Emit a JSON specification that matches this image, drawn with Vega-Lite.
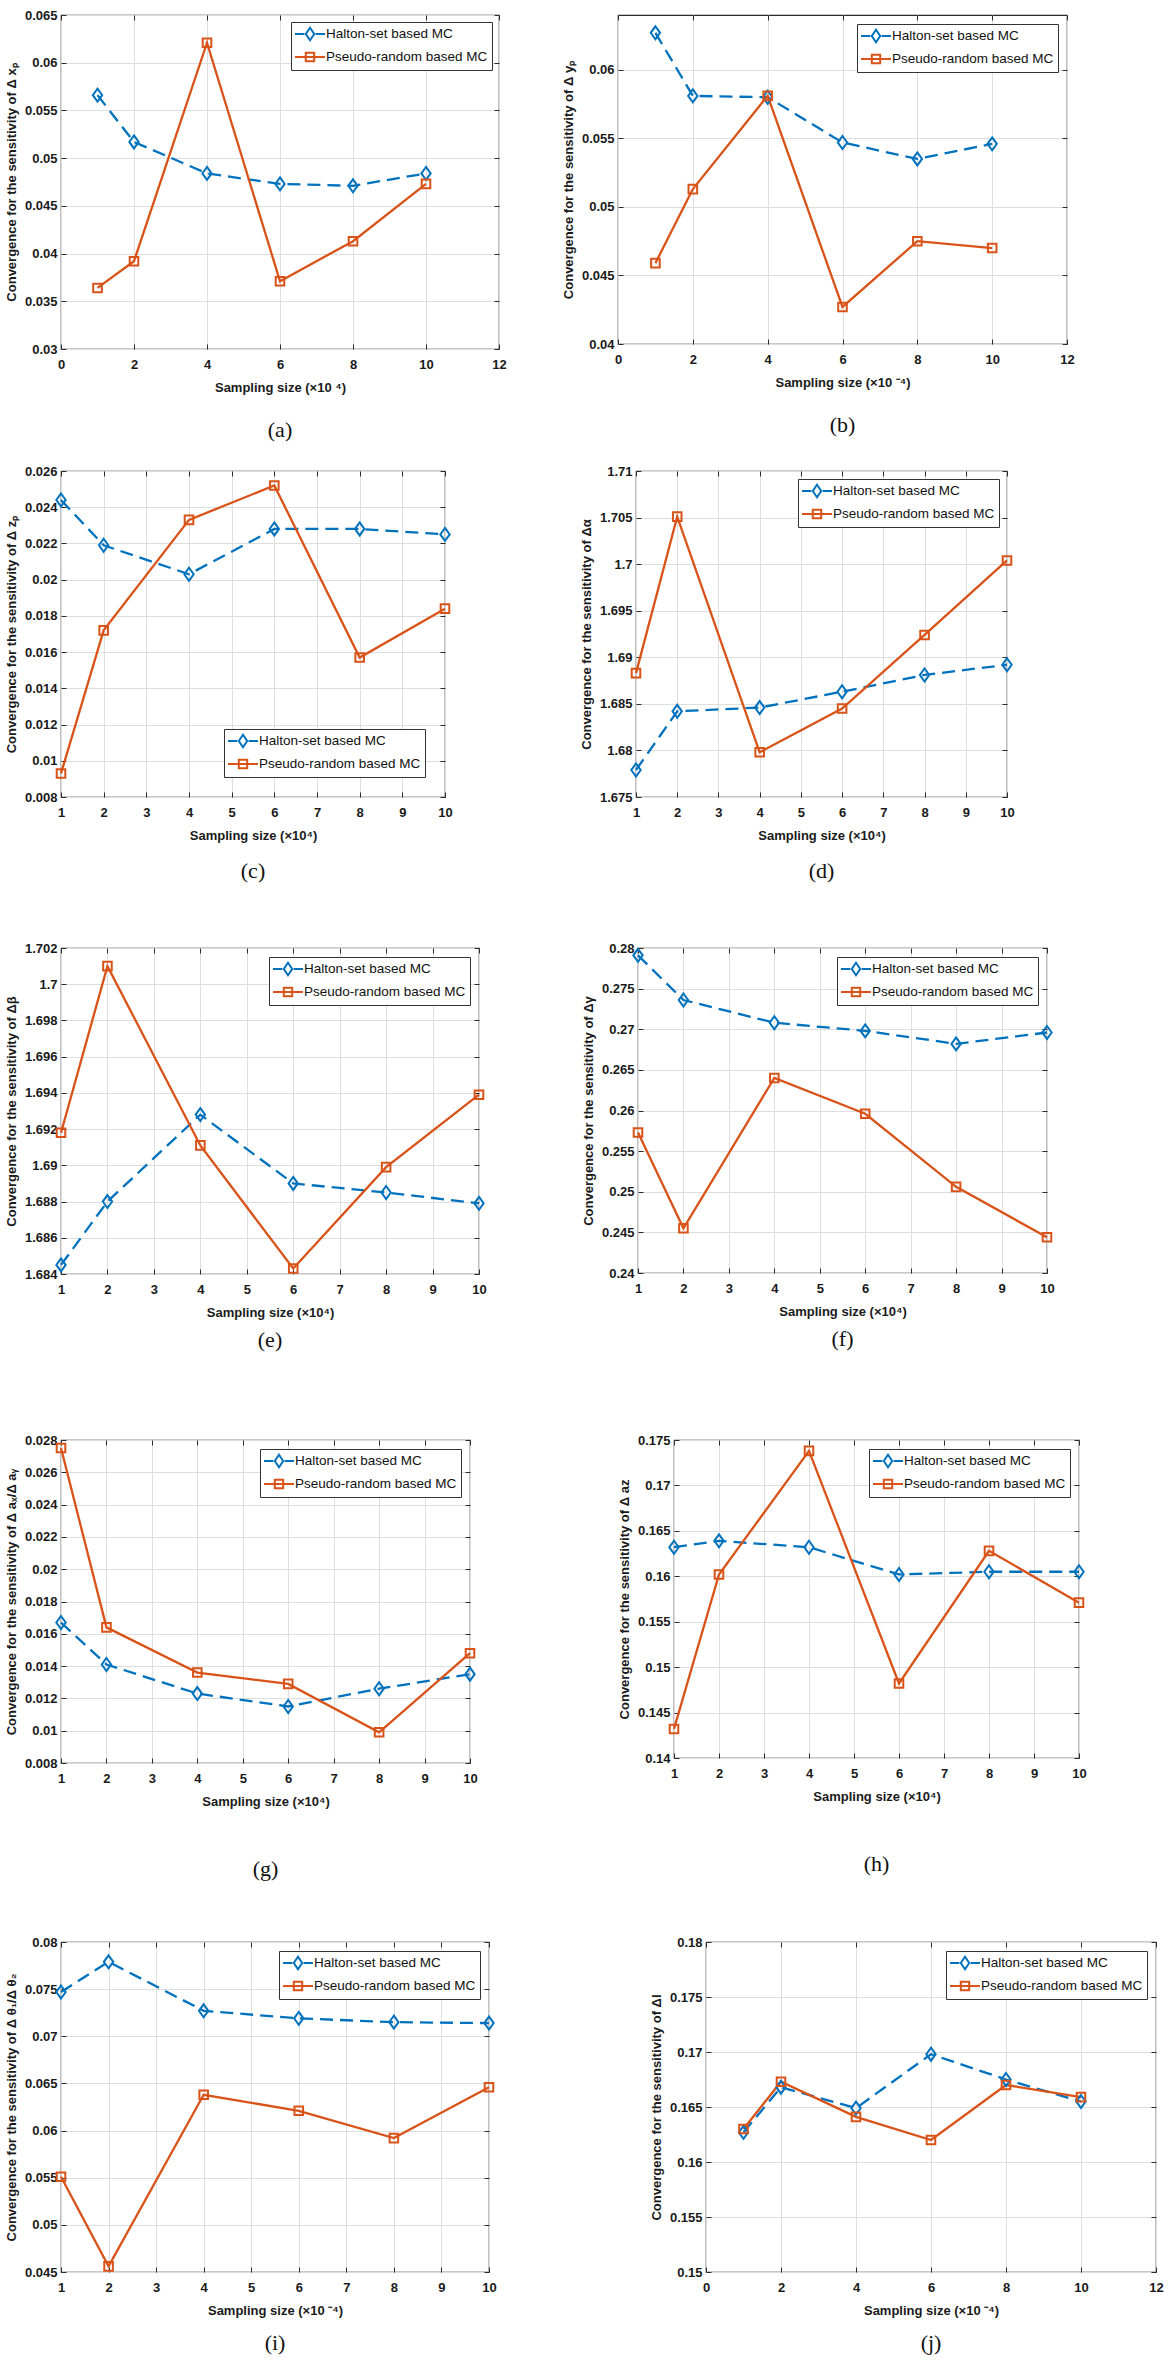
{
  "$schema": "https://vega.github.io/schema/vega-lite/v6.json",
  "background": "white",
  "padding": {"left": 4, "top": 8, "right": 5, "bottom": 5},
  "config": {
    "view": {"stroke": "#2b2b2b", "strokeWidth": 1.2},
    "axis": {"grid": true, "gridColor": "#dedede", "gridWidth": 1, "domain": false, "tickColor": "#2b2b2b", "tickSize": -5, "tickWidth": 1, "labelFont": "Liberation Sans Narrow, Liberation Sans", "labelFontSize": 13, "labelFontWeight": "bold", "labelColor": "#1a1a1a", "labelFlush": false, "labelOverlap": false, "titleFont": "Liberation Sans", "titleFontSize": 13, "titleFontWeight": "bold", "titleColor": "#1a1a1a"},
    "axisX": {"labelPadding": 14, "titlePadding": 10},
    "axisY": {"labelPadding": 9, "titlePadding": 6},
    "legend": {"fillColor": "white", "strokeColor": "#333333", "padding": 4, "labelFont": "Liberation Sans", "labelFontSize": 13.5, "labelColor": "#111111", "labelLimit": 400, "symbolSize": 196, "rowPadding": 3, "labelOffset": 15, "symbolStrokeWidth": 2, "symbolOpacity": 1},
    "title": {"font": "Liberation Serif", "fontSize": 22, "fontWeight": "normal", "color": "#111111"}
  },
  "data": {"values": [
    {"panel": "a", "method": "Halton-set based MC", "x": 1, "y": 0.0566},
    {"panel": "a", "method": "Halton-set based MC", "x": 2, "y": 0.0517},
    {"panel": "a", "method": "Halton-set based MC", "x": 4, "y": 0.0484},
    {"panel": "a", "method": "Halton-set based MC", "x": 6, "y": 0.0473},
    {"panel": "a", "method": "Halton-set based MC", "x": 8, "y": 0.0471},
    {"panel": "a", "method": "Halton-set based MC", "x": 10, "y": 0.0484},
    {"panel": "a", "method": "Pseudo-random based MC", "x": 1, "y": 0.0364},
    {"panel": "a", "method": "Pseudo-random based MC", "x": 2, "y": 0.0392},
    {"panel": "a", "method": "Pseudo-random based MC", "x": 4, "y": 0.0621},
    {"panel": "a", "method": "Pseudo-random based MC", "x": 6, "y": 0.0371},
    {"panel": "a", "method": "Pseudo-random based MC", "x": 8, "y": 0.0413},
    {"panel": "a", "method": "Pseudo-random based MC", "x": 10, "y": 0.0473},
    {"panel": "b", "method": "Halton-set based MC", "x": 1, "y": 0.0627},
    {"panel": "b", "method": "Halton-set based MC", "x": 2, "y": 0.0581},
    {"panel": "b", "method": "Halton-set based MC", "x": 4, "y": 0.0580},
    {"panel": "b", "method": "Halton-set based MC", "x": 6, "y": 0.0547},
    {"panel": "b", "method": "Halton-set based MC", "x": 8, "y": 0.0535},
    {"panel": "b", "method": "Halton-set based MC", "x": 10, "y": 0.0546},
    {"panel": "b", "method": "Pseudo-random based MC", "x": 1, "y": 0.0459},
    {"panel": "b", "method": "Pseudo-random based MC", "x": 2, "y": 0.0513},
    {"panel": "b", "method": "Pseudo-random based MC", "x": 4, "y": 0.0581},
    {"panel": "b", "method": "Pseudo-random based MC", "x": 6, "y": 0.0427},
    {"panel": "b", "method": "Pseudo-random based MC", "x": 8, "y": 0.0475},
    {"panel": "b", "method": "Pseudo-random based MC", "x": 10, "y": 0.0470},
    {"panel": "c", "method": "Halton-set based MC", "x": 1, "y": 0.0244},
    {"panel": "c", "method": "Halton-set based MC", "x": 2, "y": 0.0219},
    {"panel": "c", "method": "Halton-set based MC", "x": 4, "y": 0.0203},
    {"panel": "c", "method": "Halton-set based MC", "x": 6, "y": 0.0228},
    {"panel": "c", "method": "Halton-set based MC", "x": 8, "y": 0.0228},
    {"panel": "c", "method": "Halton-set based MC", "x": 10, "y": 0.0225},
    {"panel": "c", "method": "Pseudo-random based MC", "x": 1, "y": 0.0093},
    {"panel": "c", "method": "Pseudo-random based MC", "x": 2, "y": 0.0172},
    {"panel": "c", "method": "Pseudo-random based MC", "x": 4, "y": 0.0233},
    {"panel": "c", "method": "Pseudo-random based MC", "x": 6, "y": 0.0252},
    {"panel": "c", "method": "Pseudo-random based MC", "x": 8, "y": 0.0157},
    {"panel": "c", "method": "Pseudo-random based MC", "x": 10, "y": 0.0184},
    {"panel": "d", "method": "Halton-set based MC", "x": 1, "y": 1.6779},
    {"panel": "d", "method": "Halton-set based MC", "x": 2, "y": 1.6842},
    {"panel": "d", "method": "Halton-set based MC", "x": 4, "y": 1.6846},
    {"panel": "d", "method": "Halton-set based MC", "x": 6, "y": 1.6863},
    {"panel": "d", "method": "Halton-set based MC", "x": 8, "y": 1.6881},
    {"panel": "d", "method": "Halton-set based MC", "x": 10, "y": 1.6892},
    {"panel": "d", "method": "Pseudo-random based MC", "x": 1, "y": 1.6883},
    {"panel": "d", "method": "Pseudo-random based MC", "x": 2, "y": 1.7051},
    {"panel": "d", "method": "Pseudo-random based MC", "x": 4, "y": 1.6798},
    {"panel": "d", "method": "Pseudo-random based MC", "x": 6, "y": 1.6845},
    {"panel": "d", "method": "Pseudo-random based MC", "x": 8, "y": 1.6924},
    {"panel": "d", "method": "Pseudo-random based MC", "x": 10, "y": 1.7004},
    {"panel": "e", "method": "Halton-set based MC", "x": 1, "y": 1.6845},
    {"panel": "e", "method": "Halton-set based MC", "x": 2, "y": 1.6880},
    {"panel": "e", "method": "Halton-set based MC", "x": 4, "y": 1.6928},
    {"panel": "e", "method": "Halton-set based MC", "x": 6, "y": 1.6890},
    {"panel": "e", "method": "Halton-set based MC", "x": 8, "y": 1.6885},
    {"panel": "e", "method": "Halton-set based MC", "x": 10, "y": 1.6879},
    {"panel": "e", "method": "Pseudo-random based MC", "x": 1, "y": 1.6918},
    {"panel": "e", "method": "Pseudo-random based MC", "x": 2, "y": 1.7010},
    {"panel": "e", "method": "Pseudo-random based MC", "x": 4, "y": 1.6911},
    {"panel": "e", "method": "Pseudo-random based MC", "x": 6, "y": 1.6843},
    {"panel": "e", "method": "Pseudo-random based MC", "x": 8, "y": 1.6899},
    {"panel": "e", "method": "Pseudo-random based MC", "x": 10, "y": 1.6939},
    {"panel": "f", "method": "Halton-set based MC", "x": 1, "y": 0.2791},
    {"panel": "f", "method": "Halton-set based MC", "x": 2, "y": 0.2736},
    {"panel": "f", "method": "Halton-set based MC", "x": 4, "y": 0.2708},
    {"panel": "f", "method": "Halton-set based MC", "x": 6, "y": 0.2698},
    {"panel": "f", "method": "Halton-set based MC", "x": 8, "y": 0.2682},
    {"panel": "f", "method": "Halton-set based MC", "x": 10, "y": 0.2696},
    {"panel": "f", "method": "Pseudo-random based MC", "x": 1, "y": 0.2573},
    {"panel": "f", "method": "Pseudo-random based MC", "x": 2, "y": 0.2455},
    {"panel": "f", "method": "Pseudo-random based MC", "x": 4, "y": 0.2640},
    {"panel": "f", "method": "Pseudo-random based MC", "x": 6, "y": 0.2596},
    {"panel": "f", "method": "Pseudo-random based MC", "x": 8, "y": 0.2506},
    {"panel": "f", "method": "Pseudo-random based MC", "x": 10, "y": 0.2444},
    {"panel": "g", "method": "Halton-set based MC", "x": 1, "y": 0.0167},
    {"panel": "g", "method": "Halton-set based MC", "x": 2, "y": 0.0141},
    {"panel": "g", "method": "Halton-set based MC", "x": 4, "y": 0.0123},
    {"panel": "g", "method": "Halton-set based MC", "x": 6, "y": 0.0115},
    {"panel": "g", "method": "Halton-set based MC", "x": 8, "y": 0.0126},
    {"panel": "g", "method": "Halton-set based MC", "x": 10, "y": 0.0135},
    {"panel": "g", "method": "Pseudo-random based MC", "x": 1, "y": 0.0275},
    {"panel": "g", "method": "Pseudo-random based MC", "x": 2, "y": 0.0164},
    {"panel": "g", "method": "Pseudo-random based MC", "x": 4, "y": 0.0136},
    {"panel": "g", "method": "Pseudo-random based MC", "x": 6, "y": 0.0129},
    {"panel": "g", "method": "Pseudo-random based MC", "x": 8, "y": 0.0099},
    {"panel": "g", "method": "Pseudo-random based MC", "x": 10, "y": 0.0148},
    {"panel": "h", "method": "Halton-set based MC", "x": 1, "y": 0.1632},
    {"panel": "h", "method": "Halton-set based MC", "x": 2, "y": 0.1639},
    {"panel": "h", "method": "Halton-set based MC", "x": 4, "y": 0.1632},
    {"panel": "h", "method": "Halton-set based MC", "x": 6, "y": 0.1602},
    {"panel": "h", "method": "Halton-set based MC", "x": 8, "y": 0.1605},
    {"panel": "h", "method": "Halton-set based MC", "x": 10, "y": 0.1605},
    {"panel": "h", "method": "Pseudo-random based MC", "x": 1, "y": 0.1432},
    {"panel": "h", "method": "Pseudo-random based MC", "x": 2, "y": 0.1602},
    {"panel": "h", "method": "Pseudo-random based MC", "x": 4, "y": 0.1738},
    {"panel": "h", "method": "Pseudo-random based MC", "x": 6, "y": 0.1482},
    {"panel": "h", "method": "Pseudo-random based MC", "x": 8, "y": 0.1628},
    {"panel": "h", "method": "Pseudo-random based MC", "x": 10, "y": 0.1571},
    {"panel": "i", "method": "Halton-set based MC", "x": 1, "y": 0.0747},
    {"panel": "i", "method": "Halton-set based MC", "x": 2, "y": 0.0779},
    {"panel": "i", "method": "Halton-set based MC", "x": 4, "y": 0.0727},
    {"panel": "i", "method": "Halton-set based MC", "x": 6, "y": 0.0719},
    {"panel": "i", "method": "Halton-set based MC", "x": 8, "y": 0.0715},
    {"panel": "i", "method": "Halton-set based MC", "x": 10, "y": 0.0714},
    {"panel": "i", "method": "Pseudo-random based MC", "x": 1, "y": 0.0551},
    {"panel": "i", "method": "Pseudo-random based MC", "x": 2, "y": 0.0456},
    {"panel": "i", "method": "Pseudo-random based MC", "x": 4, "y": 0.0638},
    {"panel": "i", "method": "Pseudo-random based MC", "x": 6, "y": 0.0621},
    {"panel": "i", "method": "Pseudo-random based MC", "x": 8, "y": 0.0592},
    {"panel": "i", "method": "Pseudo-random based MC", "x": 10, "y": 0.0646},
    {"panel": "j", "method": "Halton-set based MC", "x": 1, "y": 0.1627},
    {"panel": "j", "method": "Halton-set based MC", "x": 2, "y": 0.1668},
    {"panel": "j", "method": "Halton-set based MC", "x": 4, "y": 0.1649},
    {"panel": "j", "method": "Halton-set based MC", "x": 6, "y": 0.1698},
    {"panel": "j", "method": "Halton-set based MC", "x": 8, "y": 0.1675},
    {"panel": "j", "method": "Halton-set based MC", "x": 10, "y": 0.1655},
    {"panel": "j", "method": "Pseudo-random based MC", "x": 1, "y": 0.1630},
    {"panel": "j", "method": "Pseudo-random based MC", "x": 2, "y": 0.1673},
    {"panel": "j", "method": "Pseudo-random based MC", "x": 4, "y": 0.1641},
    {"panel": "j", "method": "Pseudo-random based MC", "x": 6, "y": 0.1620},
    {"panel": "j", "method": "Pseudo-random based MC", "x": 8, "y": 0.1670},
    {"panel": "j", "method": "Pseudo-random based MC", "x": 10, "y": 0.1659}
  ]},
  "spacing": 22,
  "resolve": {"scale": {"color": "independent", "shape": "independent"}, "legend": {"color": "independent"}},
  "vconcat": [
    {
      "resolve": {"scale": {"color": "independent", "shape": "independent"}, "legend": {"color": "independent"}},
      "hconcat": [
        {
          "width": 438, "height": 334,
          "title": {"text": "(a)", "orient": "bottom", "offset": 26},
          "transform": [{"filter": "datum.panel === 'a'"}],
          "layer": [
            {"transform": [{"filter": "datum.method === 'Halton-set based MC'"}],
             "mark": {"type": "line", "color": "#0072BD", "strokeDash": [13, 7], "strokeWidth": 2.3},
             "encoding": {
               "x": {"field": "x", "type": "quantitative", "scale": {"domain": [0, 12], "nice": false, "zero": false}, "axis": {"values": [0, 2, 4, 6, 8, 10, 12], "title": "Sampling size (×10 ⁴)"}},
               "y": {"field": "y", "type": "quantitative", "scale": {"domain": [0.03, 0.065], "nice": false, "zero": false}, "axis": {"values": [0.03, 0.035, 0.04, 0.045, 0.05, 0.055, 0.06, 0.065], "format": "~g", "title": "Convergence for the sensitivity of  Δ xₚ"}}}},
            {"transform": [{"filter": "datum.method === 'Pseudo-random based MC'"}],
             "mark": {"type": "line", "color": "#D95319", "strokeWidth": 2.3},
             "encoding": {"x": {"field": "x", "type": "quantitative", "axis": null}, "y": {"field": "y", "type": "quantitative", "axis": null}}},
            {"transform": [{"filter": "datum.method === 'Halton-set based MC'"}],
             "mark": {"type": "point", "shape": "M0,-1L0.72,0L0,1L-0.72,0Z", "filled": false, "color": "#0072BD", "strokeWidth": 2, "size": 169, "opacity": 1},
             "encoding": {
               "x": {"field": "x", "type": "quantitative", "axis": {"orient": "top", "values": [0, 2, 4, 6, 8, 10, 12], "labels": false, "title": null, "grid": false}},
               "y": {"field": "y", "type": "quantitative", "axis": {"orient": "right", "values": [0.03, 0.035, 0.04, 0.045, 0.05, 0.055, 0.06, 0.065], "labels": false, "title": null, "grid": false}}}},
            {"transform": [{"filter": "datum.method === 'Pseudo-random based MC'"}],
             "mark": {"type": "point", "shape": "M-0.66,-0.66L0.66,-0.66L0.66,0.66L-0.66,0.66Z", "filled": false, "color": "#D95319", "strokeWidth": 2, "size": 169, "opacity": 1},
             "encoding": {"x": {"field": "x", "type": "quantitative", "axis": null}, "y": {"field": "y", "type": "quantitative", "axis": null}}},
            {"mark": {"type": "point", "filled": false, "strokeWidth": 2, "opacity": 0},
             "encoding": {
               "x": {"field": "x", "type": "quantitative", "axis": null}, "y": {"field": "y", "type": "quantitative", "axis": null},
               "color": {"field": "method", "type": "nominal", "scale": {"domain": ["Halton-set based MC", "Pseudo-random based MC"], "range": ["#0072BD", "#D95319"]}, "legend": {"title": null, "orient": "top-right", "offset": 7, "symbolOpacity": 1}},
               "shape": {"field": "method", "type": "nominal", "scale": {"domain": ["Halton-set based MC", "Pseudo-random based MC"], "range": ["M-1.14,0L0.2,0M1,-0.9L1.6,0L1,0.9L0.4,0ZM1.8,0L3.14,0", "M-1.14,0L3.14,0M0.4,-0.6L1.6,-0.6L1.6,0.6L0.4,0.6Z"]}, "legend": null}}}
          ],
          "resolve": {"axis": {"x": "independent", "y": "independent"}}
        },
        {
          "width": 449, "height": 329,
          "title": {"text": "(b)", "orient": "bottom", "offset": 26},
          "transform": [{"filter": "datum.panel === 'b'"}],
          "layer": [
            {"transform": [{"filter": "datum.method === 'Halton-set based MC'"}],
             "mark": {"type": "line", "color": "#0072BD", "strokeDash": [13, 7], "strokeWidth": 2.3},
             "encoding": {
               "x": {"field": "x", "type": "quantitative", "scale": {"domain": [0, 12], "nice": false, "zero": false}, "axis": {"values": [0, 2, 4, 6, 8, 10, 12], "title": "Sampling size (×10 ⁻⁴)"}},
               "y": {"field": "y", "type": "quantitative", "scale": {"domain": [0.04, 0.064], "nice": false, "zero": false}, "axis": {"values": [0.04, 0.045, 0.05, 0.055, 0.06], "format": "~g", "title": "Convergence for the sensitivity of  Δ yₚ"}}}},
            {"transform": [{"filter": "datum.method === 'Pseudo-random based MC'"}],
             "mark": {"type": "line", "color": "#D95319", "strokeWidth": 2.3},
             "encoding": {"x": {"field": "x", "type": "quantitative", "axis": null}, "y": {"field": "y", "type": "quantitative", "axis": null}}},
            {"transform": [{"filter": "datum.method === 'Halton-set based MC'"}],
             "mark": {"type": "point", "shape": "M0,-1L0.72,0L0,1L-0.72,0Z", "filled": false, "color": "#0072BD", "strokeWidth": 2, "size": 169, "opacity": 1},
             "encoding": {
               "x": {"field": "x", "type": "quantitative", "axis": {"orient": "top", "values": [0, 2, 4, 6, 8, 10, 12], "labels": false, "title": null, "grid": false}},
               "y": {"field": "y", "type": "quantitative", "axis": {"orient": "right", "values": [0.04, 0.045, 0.05, 0.055, 0.06], "labels": false, "title": null, "grid": false}}}},
            {"transform": [{"filter": "datum.method === 'Pseudo-random based MC'"}],
             "mark": {"type": "point", "shape": "M-0.66,-0.66L0.66,-0.66L0.66,0.66L-0.66,0.66Z", "filled": false, "color": "#D95319", "strokeWidth": 2, "size": 169, "opacity": 1},
             "encoding": {"x": {"field": "x", "type": "quantitative", "axis": null}, "y": {"field": "y", "type": "quantitative", "axis": null}}},
            {"mark": {"type": "point", "filled": false, "strokeWidth": 2, "opacity": 0},
             "encoding": {
               "x": {"field": "x", "type": "quantitative", "axis": null}, "y": {"field": "y", "type": "quantitative", "axis": null},
               "color": {"field": "method", "type": "nominal", "scale": {"domain": ["Halton-set based MC", "Pseudo-random based MC"], "range": ["#0072BD", "#D95319"]}, "legend": {"title": null, "orient": "top-right", "offset": 9, "symbolOpacity": 1}},
               "shape": {"field": "method", "type": "nominal", "scale": {"domain": ["Halton-set based MC", "Pseudo-random based MC"], "range": ["M-1.14,0L0.2,0M1,-0.9L1.6,0L1,0.9L0.4,0ZM1.8,0L3.14,0", "M-1.14,0L3.14,0M0.4,-0.6L1.6,-0.6L1.6,0.6L0.4,0.6Z"]}, "legend": null}}}
          ],
          "resolve": {"axis": {"x": "independent", "y": "independent"}}
        }
      ],
      "bounds": "flush", "spacing": 119
    },
    {
      "spacing": 58,
      "resolve": {"scale": {"color": "independent", "shape": "independent"}, "legend": {"color": "independent"}},
      "vconcat": [
        {
          "resolve": {"scale": {"color": "independent", "shape": "independent"}, "legend": {"color": "independent"}},
          "hconcat": [
            {
              "width": 384, "height": 326,
              "title": {"text": "(c)", "orient": "bottom", "offset": 19},
              "transform": [{"filter": "datum.panel === 'c'"}],
              "layer": [
                {"transform": [{"filter": "datum.method === 'Halton-set based MC'"}],
                 "mark": {"type": "line", "color": "#0072BD", "strokeDash": [13, 7], "strokeWidth": 2.3},
                 "encoding": {
                   "x": {"field": "x", "type": "quantitative", "scale": {"domain": [1, 10], "nice": false, "zero": false}, "axis": {"values": [1, 2, 3, 4, 5, 6, 7, 8, 9, 10], "title": "Sampling size (×10⁴)"}},
                   "y": {"field": "y", "type": "quantitative", "scale": {"domain": [0.008, 0.026], "nice": false, "zero": false}, "axis": {"values": [0.008, 0.01, 0.012, 0.014, 0.016, 0.018, 0.02, 0.022, 0.024, 0.026], "format": "~g", "title": "Convergence for the sensitivity of  Δ zₚ"}}}},
                {"transform": [{"filter": "datum.method === 'Pseudo-random based MC'"}],
                 "mark": {"type": "line", "color": "#D95319", "strokeWidth": 2.3},
                 "encoding": {"x": {"field": "x", "type": "quantitative", "axis": null}, "y": {"field": "y", "type": "quantitative", "axis": null}}},
                {"transform": [{"filter": "datum.method === 'Halton-set based MC'"}],
                 "mark": {"type": "point", "shape": "M0,-1L0.72,0L0,1L-0.72,0Z", "filled": false, "color": "#0072BD", "strokeWidth": 2, "size": 169, "opacity": 1},
                 "encoding": {
                   "x": {"field": "x", "type": "quantitative", "axis": {"orient": "top", "values": [1, 2, 3, 4, 5, 6, 7, 8, 9, 10], "labels": false, "title": null, "grid": false}},
                   "y": {"field": "y", "type": "quantitative", "axis": {"orient": "right", "values": [0.008, 0.01, 0.012, 0.014, 0.016, 0.018, 0.02, 0.022, 0.024, 0.026], "labels": false, "title": null, "grid": false}}}},
                {"transform": [{"filter": "datum.method === 'Pseudo-random based MC'"}],
                 "mark": {"type": "point", "shape": "M-0.66,-0.66L0.66,-0.66L0.66,0.66L-0.66,0.66Z", "filled": false, "color": "#D95319", "strokeWidth": 2, "size": 169, "opacity": 1},
                 "encoding": {"x": {"field": "x", "type": "quantitative", "axis": null}, "y": {"field": "y", "type": "quantitative", "axis": null}}},
                {"mark": {"type": "point", "filled": false, "strokeWidth": 2, "opacity": 0},
                 "encoding": {
                   "x": {"field": "x", "type": "quantitative", "axis": null}, "y": {"field": "y", "type": "quantitative", "axis": null},
                   "color": {"field": "method", "type": "nominal", "scale": {"domain": ["Halton-set based MC", "Pseudo-random based MC"], "range": ["#0072BD", "#D95319"]}, "legend": {"title": null, "orient": "bottom-right", "offset": 20, "symbolOpacity": 1}},
                   "shape": {"field": "method", "type": "nominal", "scale": {"domain": ["Halton-set based MC", "Pseudo-random based MC"], "range": ["M-1.14,0L0.2,0M1,-0.9L1.6,0L1,0.9L0.4,0ZM1.8,0L3.14,0", "M-1.14,0L3.14,0M0.4,-0.6L1.6,-0.6L1.6,0.6L0.4,0.6Z"]}, "legend": null}}}
              ],
              "resolve": {"axis": {"x": "independent", "y": "independent"}}
            },
            {
              "width": 371, "height": 326,
              "title": {"text": "(d)", "orient": "bottom", "offset": 19},
              "transform": [{"filter": "datum.panel === 'd'"}],
              "layer": [
                {"transform": [{"filter": "datum.method === 'Halton-set based MC'"}],
                 "mark": {"type": "line", "color": "#0072BD", "strokeDash": [13, 7], "strokeWidth": 2.3},
                 "encoding": {
                   "x": {"field": "x", "type": "quantitative", "scale": {"domain": [1, 10], "nice": false, "zero": false}, "axis": {"values": [1, 2, 3, 4, 5, 6, 7, 8, 9, 10], "title": "Sampling size (×10⁴)"}},
                   "y": {"field": "y", "type": "quantitative", "scale": {"domain": [1.675, 1.71], "nice": false, "zero": false}, "axis": {"values": [1.675, 1.68, 1.685, 1.69, 1.695, 1.7, 1.705, 1.71], "format": "~g", "title": "Convergence for the sensitivity of  Δα"}}}},
                {"transform": [{"filter": "datum.method === 'Pseudo-random based MC'"}],
                 "mark": {"type": "line", "color": "#D95319", "strokeWidth": 2.3},
                 "encoding": {"x": {"field": "x", "type": "quantitative", "axis": null}, "y": {"field": "y", "type": "quantitative", "axis": null}}},
                {"transform": [{"filter": "datum.method === 'Halton-set based MC'"}],
                 "mark": {"type": "point", "shape": "M0,-1L0.72,0L0,1L-0.72,0Z", "filled": false, "color": "#0072BD", "strokeWidth": 2, "size": 169, "opacity": 1},
                 "encoding": {
                   "x": {"field": "x", "type": "quantitative", "axis": {"orient": "top", "values": [1, 2, 3, 4, 5, 6, 7, 8, 9, 10], "labels": false, "title": null, "grid": false}},
                   "y": {"field": "y", "type": "quantitative", "axis": {"orient": "right", "values": [1.675, 1.68, 1.685, 1.69, 1.695, 1.7, 1.705, 1.71], "labels": false, "title": null, "grid": false}}}},
                {"transform": [{"filter": "datum.method === 'Pseudo-random based MC'"}],
                 "mark": {"type": "point", "shape": "M-0.66,-0.66L0.66,-0.66L0.66,0.66L-0.66,0.66Z", "filled": false, "color": "#D95319", "strokeWidth": 2, "size": 169, "opacity": 1},
                 "encoding": {"x": {"field": "x", "type": "quantitative", "axis": null}, "y": {"field": "y", "type": "quantitative", "axis": null}}},
                {"mark": {"type": "point", "filled": false, "strokeWidth": 2, "opacity": 0},
                 "encoding": {
                   "x": {"field": "x", "type": "quantitative", "axis": null}, "y": {"field": "y", "type": "quantitative", "axis": null},
                   "color": {"field": "method", "type": "nominal", "scale": {"domain": ["Halton-set based MC", "Pseudo-random based MC"], "range": ["#0072BD", "#D95319"]}, "legend": {"title": null, "orient": "top-right", "offset": 8, "symbolOpacity": 1}},
                   "shape": {"field": "method", "type": "nominal", "scale": {"domain": ["Halton-set based MC", "Pseudo-random based MC"], "range": ["M-1.14,0L0.2,0M1,-0.9L1.6,0L1,0.9L0.4,0ZM1.8,0L3.14,0", "M-1.14,0L3.14,0M0.4,-0.6L1.6,-0.6L1.6,0.6L0.4,0.6Z"]}, "legend": null}}}
              ],
              "resolve": {"axis": {"x": "independent", "y": "independent"}}
            }
          ],
          "bounds": "flush", "spacing": 191
        },
        {
          "spacing": 81,
          "resolve": {"scale": {"color": "independent", "shape": "independent"}, "legend": {"color": "independent"}},
          "vconcat": [
            {
              "resolve": {"scale": {"color": "independent", "shape": "independent"}, "legend": {"color": "independent"}},
              "hconcat": [
                {
                  "width": 418, "height": 326,
                  "title": {"text": "(e)", "orient": "bottom", "offset": 11},
                  "transform": [{"filter": "datum.panel === 'e'"}],
                  "layer": [
                    {"transform": [{"filter": "datum.method === 'Halton-set based MC'"}],
                     "mark": {"type": "line", "color": "#0072BD", "strokeDash": [13, 7], "strokeWidth": 2.3},
                     "encoding": {
                       "x": {"field": "x", "type": "quantitative", "scale": {"domain": [1, 10], "nice": false, "zero": false}, "axis": {"values": [1, 2, 3, 4, 5, 6, 7, 8, 9, 10], "title": "Sampling size (×10⁴)"}},
                       "y": {"field": "y", "type": "quantitative", "scale": {"domain": [1.684, 1.702], "nice": false, "zero": false}, "axis": {"values": [1.684, 1.686, 1.688, 1.69, 1.692, 1.694, 1.696, 1.698, 1.7, 1.702], "format": "~g", "title": "Convergence for the sensitivity of  Δβ"}}}},
                    {"transform": [{"filter": "datum.method === 'Pseudo-random based MC'"}],
                     "mark": {"type": "line", "color": "#D95319", "strokeWidth": 2.3},
                     "encoding": {"x": {"field": "x", "type": "quantitative", "axis": null}, "y": {"field": "y", "type": "quantitative", "axis": null}}},
                    {"transform": [{"filter": "datum.method === 'Halton-set based MC'"}],
                     "mark": {"type": "point", "shape": "M0,-1L0.72,0L0,1L-0.72,0Z", "filled": false, "color": "#0072BD", "strokeWidth": 2, "size": 169, "opacity": 1},
                     "encoding": {
                       "x": {"field": "x", "type": "quantitative", "axis": {"orient": "top", "values": [1, 2, 3, 4, 5, 6, 7, 8, 9, 10], "labels": false, "title": null, "grid": false}},
                       "y": {"field": "y", "type": "quantitative", "axis": {"orient": "right", "values": [1.684, 1.686, 1.688, 1.69, 1.692, 1.694, 1.696, 1.698, 1.7, 1.702], "labels": false, "title": null, "grid": false}}}},
                    {"transform": [{"filter": "datum.method === 'Pseudo-random based MC'"}],
                     "mark": {"type": "point", "shape": "M-0.66,-0.66L0.66,-0.66L0.66,0.66L-0.66,0.66Z", "filled": false, "color": "#D95319", "strokeWidth": 2, "size": 169, "opacity": 1},
                     "encoding": {"x": {"field": "x", "type": "quantitative", "axis": null}, "y": {"field": "y", "type": "quantitative", "axis": null}}},
                    {"mark": {"type": "point", "filled": false, "strokeWidth": 2, "opacity": 0},
                     "encoding": {
                       "x": {"field": "x", "type": "quantitative", "axis": null}, "y": {"field": "y", "type": "quantitative", "axis": null},
                       "color": {"field": "method", "type": "nominal", "scale": {"domain": ["Halton-set based MC", "Pseudo-random based MC"], "range": ["#0072BD", "#D95319"]}, "legend": {"title": null, "orient": "top-right", "offset": 9, "symbolOpacity": 1}},
                       "shape": {"field": "method", "type": "nominal", "scale": {"domain": ["Halton-set based MC", "Pseudo-random based MC"], "range": ["M-1.14,0L0.2,0M1,-0.9L1.6,0L1,0.9L0.4,0ZM1.8,0L3.14,0", "M-1.14,0L3.14,0M0.4,-0.6L1.6,-0.6L1.6,0.6L0.4,0.6Z"]}, "legend": null}}}
                  ],
                  "resolve": {"axis": {"x": "independent", "y": "independent"}}
                },
                {
                  "width": 409, "height": 325,
                  "title": {"text": "(f)", "orient": "bottom", "offset": 11},
                  "transform": [{"filter": "datum.panel === 'f'"}],
                  "layer": [
                    {"transform": [{"filter": "datum.method === 'Halton-set based MC'"}],
                     "mark": {"type": "line", "color": "#0072BD", "strokeDash": [13, 7], "strokeWidth": 2.3},
                     "encoding": {
                       "x": {"field": "x", "type": "quantitative", "scale": {"domain": [1, 10], "nice": false, "zero": false}, "axis": {"values": [1, 2, 3, 4, 5, 6, 7, 8, 9, 10], "title": "Sampling size (×10⁴)"}},
                       "y": {"field": "y", "type": "quantitative", "scale": {"domain": [0.24, 0.28], "nice": false, "zero": false}, "axis": {"values": [0.24, 0.245, 0.25, 0.255, 0.26, 0.265, 0.27, 0.275, 0.28], "format": "~g", "title": "Convergence for the sensitivity of  Δγ"}}}},
                    {"transform": [{"filter": "datum.method === 'Pseudo-random based MC'"}],
                     "mark": {"type": "line", "color": "#D95319", "strokeWidth": 2.3},
                     "encoding": {"x": {"field": "x", "type": "quantitative", "axis": null}, "y": {"field": "y", "type": "quantitative", "axis": null}}},
                    {"transform": [{"filter": "datum.method === 'Halton-set based MC'"}],
                     "mark": {"type": "point", "shape": "M0,-1L0.72,0L0,1L-0.72,0Z", "filled": false, "color": "#0072BD", "strokeWidth": 2, "size": 169, "opacity": 1},
                     "encoding": {
                       "x": {"field": "x", "type": "quantitative", "axis": {"orient": "top", "values": [1, 2, 3, 4, 5, 6, 7, 8, 9, 10], "labels": false, "title": null, "grid": false}},
                       "y": {"field": "y", "type": "quantitative", "axis": {"orient": "right", "values": [0.24, 0.245, 0.25, 0.255, 0.26, 0.265, 0.27, 0.275, 0.28], "labels": false, "title": null, "grid": false}}}},
                    {"transform": [{"filter": "datum.method === 'Pseudo-random based MC'"}],
                     "mark": {"type": "point", "shape": "M-0.66,-0.66L0.66,-0.66L0.66,0.66L-0.66,0.66Z", "filled": false, "color": "#D95319", "strokeWidth": 2, "size": 169, "opacity": 1},
                     "encoding": {"x": {"field": "x", "type": "quantitative", "axis": null}, "y": {"field": "y", "type": "quantitative", "axis": null}}},
                    {"mark": {"type": "point", "filled": false, "strokeWidth": 2, "opacity": 0},
                     "encoding": {
                       "x": {"field": "x", "type": "quantitative", "axis": null}, "y": {"field": "y", "type": "quantitative", "axis": null},
                       "color": {"field": "method", "type": "nominal", "scale": {"domain": ["Halton-set based MC", "Pseudo-random based MC"], "range": ["#0072BD", "#D95319"]}, "legend": {"title": null, "orient": "top-right", "offset": 9, "symbolOpacity": 1}},
                       "shape": {"field": "method", "type": "nominal", "scale": {"domain": ["Halton-set based MC", "Pseudo-random based MC"], "range": ["M-1.14,0L0.2,0M1,-0.9L1.6,0L1,0.9L0.4,0ZM1.8,0L3.14,0", "M-1.14,0L3.14,0M0.4,-0.6L1.6,-0.6L1.6,0.6L0.4,0.6Z"]}, "legend": null}}}
                  ],
                  "resolve": {"axis": {"x": "independent", "y": "independent"}}
                }
              ],
              "bounds": "flush", "spacing": 159
            },
            {
              "spacing": 54,
              "resolve": {"scale": {"color": "independent", "shape": "independent"}, "legend": {"color": "independent"}},
              "vconcat": [
                {
                  "resolve": {"scale": {"color": "independent", "shape": "independent"}, "legend": {"color": "independent"}},
                  "hconcat": [
                    {
                      "width": 409, "height": 323,
                      "title": {"text": "(g)", "orient": "bottom", "offset": 51},
                      "transform": [{"filter": "datum.panel === 'g'"}],
                      "layer": [
                        {"transform": [{"filter": "datum.method === 'Halton-set based MC'"}],
                         "mark": {"type": "line", "color": "#0072BD", "strokeDash": [13, 7], "strokeWidth": 2.3},
                         "encoding": {
                           "x": {"field": "x", "type": "quantitative", "scale": {"domain": [1, 10], "nice": false, "zero": false}, "axis": {"values": [1, 2, 3, 4, 5, 6, 7, 8, 9, 10], "title": "Sampling size (×10⁴)"}},
                           "y": {"field": "y", "type": "quantitative", "scale": {"domain": [0.008, 0.028], "nice": false, "zero": false}, "axis": {"values": [0.008, 0.01, 0.012, 0.014, 0.016, 0.018, 0.02, 0.022, 0.024, 0.026, 0.028], "format": "~g", "title": "Convergence for the sensitivity of  Δ aₓ/Δ aᵧ"}}}},
                        {"transform": [{"filter": "datum.method === 'Pseudo-random based MC'"}],
                         "mark": {"type": "line", "color": "#D95319", "strokeWidth": 2.3},
                         "encoding": {"x": {"field": "x", "type": "quantitative", "axis": null}, "y": {"field": "y", "type": "quantitative", "axis": null}}},
                        {"transform": [{"filter": "datum.method === 'Halton-set based MC'"}],
                         "mark": {"type": "point", "shape": "M0,-1L0.72,0L0,1L-0.72,0Z", "filled": false, "color": "#0072BD", "strokeWidth": 2, "size": 169, "opacity": 1},
                         "encoding": {
                           "x": {"field": "x", "type": "quantitative", "axis": {"orient": "top", "values": [1, 2, 3, 4, 5, 6, 7, 8, 9, 10], "labels": false, "title": null, "grid": false}},
                           "y": {"field": "y", "type": "quantitative", "axis": {"orient": "right", "values": [0.008, 0.01, 0.012, 0.014, 0.016, 0.018, 0.02, 0.022, 0.024, 0.026, 0.028], "labels": false, "title": null, "grid": false}}}},
                        {"transform": [{"filter": "datum.method === 'Pseudo-random based MC'"}],
                         "mark": {"type": "point", "shape": "M-0.66,-0.66L0.66,-0.66L0.66,0.66L-0.66,0.66Z", "filled": false, "color": "#D95319", "strokeWidth": 2, "size": 169, "opacity": 1},
                         "encoding": {"x": {"field": "x", "type": "quantitative", "axis": null}, "y": {"field": "y", "type": "quantitative", "axis": null}}},
                        {"mark": {"type": "point", "filled": false, "strokeWidth": 2, "opacity": 0},
                         "encoding": {
                           "x": {"field": "x", "type": "quantitative", "axis": null}, "y": {"field": "y", "type": "quantitative", "axis": null},
                           "color": {"field": "method", "type": "nominal", "scale": {"domain": ["Halton-set based MC", "Pseudo-random based MC"], "range": ["#0072BD", "#D95319"]}, "legend": {"title": null, "orient": "top-right", "offset": 9, "symbolOpacity": 1}},
                           "shape": {"field": "method", "type": "nominal", "scale": {"domain": ["Halton-set based MC", "Pseudo-random based MC"], "range": ["M-1.14,0L0.2,0M1,-0.9L1.6,0L1,0.9L0.4,0ZM1.8,0L3.14,0", "M-1.14,0L3.14,0M0.4,-0.6L1.6,-0.6L1.6,0.6L0.4,0.6Z"]}, "legend": null}}}
                      ],
                      "resolve": {"axis": {"x": "independent", "y": "independent"}}
                    },
                    {
                      "width": 405, "height": 318,
                      "title": {"text": "(h)", "orient": "bottom", "offset": 51},
                      "transform": [{"filter": "datum.panel === 'h'"}],
                      "layer": [
                        {"transform": [{"filter": "datum.method === 'Halton-set based MC'"}],
                         "mark": {"type": "line", "color": "#0072BD", "strokeDash": [13, 7], "strokeWidth": 2.3},
                         "encoding": {
                           "x": {"field": "x", "type": "quantitative", "scale": {"domain": [1, 10], "nice": false, "zero": false}, "axis": {"values": [1, 2, 3, 4, 5, 6, 7, 8, 9, 10], "title": "Sampling size (×10⁴)"}},
                           "y": {"field": "y", "type": "quantitative", "scale": {"domain": [0.14, 0.175], "nice": false, "zero": false}, "axis": {"values": [0.14, 0.145, 0.15, 0.155, 0.16, 0.165, 0.17, 0.175], "format": "~g", "title": "Convergence for the sensitivity of  Δ az"}}}},
                        {"transform": [{"filter": "datum.method === 'Pseudo-random based MC'"}],
                         "mark": {"type": "line", "color": "#D95319", "strokeWidth": 2.3},
                         "encoding": {"x": {"field": "x", "type": "quantitative", "axis": null}, "y": {"field": "y", "type": "quantitative", "axis": null}}},
                        {"transform": [{"filter": "datum.method === 'Halton-set based MC'"}],
                         "mark": {"type": "point", "shape": "M0,-1L0.72,0L0,1L-0.72,0Z", "filled": false, "color": "#0072BD", "strokeWidth": 2, "size": 169, "opacity": 1},
                         "encoding": {
                           "x": {"field": "x", "type": "quantitative", "axis": {"orient": "top", "values": [1, 2, 3, 4, 5, 6, 7, 8, 9, 10], "labels": false, "title": null, "grid": false}},
                           "y": {"field": "y", "type": "quantitative", "axis": {"orient": "right", "values": [0.14, 0.145, 0.15, 0.155, 0.16, 0.165, 0.17, 0.175], "labels": false, "title": null, "grid": false}}}},
                        {"transform": [{"filter": "datum.method === 'Pseudo-random based MC'"}],
                         "mark": {"type": "point", "shape": "M-0.66,-0.66L0.66,-0.66L0.66,0.66L-0.66,0.66Z", "filled": false, "color": "#D95319", "strokeWidth": 2, "size": 169, "opacity": 1},
                         "encoding": {"x": {"field": "x", "type": "quantitative", "axis": null}, "y": {"field": "y", "type": "quantitative", "axis": null}}},
                        {"mark": {"type": "point", "filled": false, "strokeWidth": 2, "opacity": 0},
                         "encoding": {
                           "x": {"field": "x", "type": "quantitative", "axis": null}, "y": {"field": "y", "type": "quantitative", "axis": null},
                           "color": {"field": "method", "type": "nominal", "scale": {"domain": ["Halton-set based MC", "Pseudo-random based MC"], "range": ["#0072BD", "#D95319"]}, "legend": {"title": null, "orient": "top-right", "offset": 9, "symbolOpacity": 1}},
                           "shape": {"field": "method", "type": "nominal", "scale": {"domain": ["Halton-set based MC", "Pseudo-random based MC"], "range": ["M-1.14,0L0.2,0M1,-0.9L1.6,0L1,0.9L0.4,0ZM1.8,0L3.14,0", "M-1.14,0L3.14,0M0.4,-0.6L1.6,-0.6L1.6,0.6L0.4,0.6Z"]}, "legend": null}}}
                      ],
                      "resolve": {"axis": {"x": "independent", "y": "independent"}}
                    }
                  ],
                  "bounds": "flush", "spacing": 204
                },
                {
                  "resolve": {"scale": {"color": "independent", "shape": "independent"}, "legend": {"color": "independent"}},
                  "hconcat": [
                    {
                      "width": 428, "height": 330,
                      "title": {"text": "(i)", "orient": "bottom", "offset": 16},
                      "transform": [{"filter": "datum.panel === 'i'"}],
                      "layer": [
                        {"transform": [{"filter": "datum.method === 'Halton-set based MC'"}],
                         "mark": {"type": "line", "color": "#0072BD", "strokeDash": [13, 7], "strokeWidth": 2.3},
                         "encoding": {
                           "x": {"field": "x", "type": "quantitative", "scale": {"domain": [1, 10], "nice": false, "zero": false}, "axis": {"values": [1, 2, 3, 4, 5, 6, 7, 8, 9, 10], "title": "Sampling size (×10 ⁻⁴)"}},
                           "y": {"field": "y", "type": "quantitative", "scale": {"domain": [0.045, 0.08], "nice": false, "zero": false}, "axis": {"values": [0.045, 0.05, 0.055, 0.06, 0.065, 0.07, 0.075, 0.08], "format": "~g", "title": "Convergence for the sensitivity of  Δ θ₁/Δ θ₂"}}}},
                        {"transform": [{"filter": "datum.method === 'Pseudo-random based MC'"}],
                         "mark": {"type": "line", "color": "#D95319", "strokeWidth": 2.3},
                         "encoding": {"x": {"field": "x", "type": "quantitative", "axis": null}, "y": {"field": "y", "type": "quantitative", "axis": null}}},
                        {"transform": [{"filter": "datum.method === 'Halton-set based MC'"}],
                         "mark": {"type": "point", "shape": "M0,-1L0.72,0L0,1L-0.72,0Z", "filled": false, "color": "#0072BD", "strokeWidth": 2, "size": 169, "opacity": 1},
                         "encoding": {
                           "x": {"field": "x", "type": "quantitative", "axis": {"orient": "top", "values": [1, 2, 3, 4, 5, 6, 7, 8, 9, 10], "labels": false, "title": null, "grid": false}},
                           "y": {"field": "y", "type": "quantitative", "axis": {"orient": "right", "values": [0.045, 0.05, 0.055, 0.06, 0.065, 0.07, 0.075, 0.08], "labels": false, "title": null, "grid": false}}}},
                        {"transform": [{"filter": "datum.method === 'Pseudo-random based MC'"}],
                         "mark": {"type": "point", "shape": "M-0.66,-0.66L0.66,-0.66L0.66,0.66L-0.66,0.66Z", "filled": false, "color": "#D95319", "strokeWidth": 2, "size": 169, "opacity": 1},
                         "encoding": {"x": {"field": "x", "type": "quantitative", "axis": null}, "y": {"field": "y", "type": "quantitative", "axis": null}}},
                        {"mark": {"type": "point", "filled": false, "strokeWidth": 2, "opacity": 0},
                         "encoding": {
                           "x": {"field": "x", "type": "quantitative", "axis": null}, "y": {"field": "y", "type": "quantitative", "axis": null},
                           "color": {"field": "method", "type": "nominal", "scale": {"domain": ["Halton-set based MC", "Pseudo-random based MC"], "range": ["#0072BD", "#D95319"]}, "legend": {"title": null, "orient": "top-right", "offset": 9, "symbolOpacity": 1}},
                           "shape": {"field": "method", "type": "nominal", "scale": {"domain": ["Halton-set based MC", "Pseudo-random based MC"], "range": ["M-1.14,0L0.2,0M1,-0.9L1.6,0L1,0.9L0.4,0ZM1.8,0L3.14,0", "M-1.14,0L3.14,0M0.4,-0.6L1.6,-0.6L1.6,0.6L0.4,0.6Z"]}, "legend": null}}}
                      ],
                      "resolve": {"axis": {"x": "independent", "y": "independent"}}
                    },
                    {
                      "width": 450, "height": 330,
                      "title": {"text": "(j)", "orient": "bottom", "offset": 16},
                      "transform": [{"filter": "datum.panel === 'j'"}],
                      "layer": [
                        {"transform": [{"filter": "datum.method === 'Halton-set based MC'"}],
                         "mark": {"type": "line", "color": "#0072BD", "strokeDash": [13, 7], "strokeWidth": 2.3},
                         "encoding": {
                           "x": {"field": "x", "type": "quantitative", "scale": {"domain": [0, 12], "nice": false, "zero": false}, "axis": {"values": [0, 2, 4, 6, 8, 10, 12], "title": "Sampling size (×10 ⁻⁴)"}},
                           "y": {"field": "y", "type": "quantitative", "scale": {"domain": [0.15, 0.18], "nice": false, "zero": false}, "axis": {"values": [0.15, 0.155, 0.16, 0.165, 0.17, 0.175, 0.18], "format": "~g", "title": "Convergence for the sensitivity of  Δl"}}}},
                        {"transform": [{"filter": "datum.method === 'Pseudo-random based MC'"}],
                         "mark": {"type": "line", "color": "#D95319", "strokeWidth": 2.3},
                         "encoding": {"x": {"field": "x", "type": "quantitative", "axis": null}, "y": {"field": "y", "type": "quantitative", "axis": null}}},
                        {"transform": [{"filter": "datum.method === 'Halton-set based MC'"}],
                         "mark": {"type": "point", "shape": "M0,-1L0.72,0L0,1L-0.72,0Z", "filled": false, "color": "#0072BD", "strokeWidth": 2, "size": 169, "opacity": 1},
                         "encoding": {
                           "x": {"field": "x", "type": "quantitative", "axis": {"orient": "top", "values": [0, 2, 4, 6, 8, 10, 12], "labels": false, "title": null, "grid": false}},
                           "y": {"field": "y", "type": "quantitative", "axis": {"orient": "right", "values": [0.15, 0.155, 0.16, 0.165, 0.17, 0.175, 0.18], "labels": false, "title": null, "grid": false}}}},
                        {"transform": [{"filter": "datum.method === 'Pseudo-random based MC'"}],
                         "mark": {"type": "point", "shape": "M-0.66,-0.66L0.66,-0.66L0.66,0.66L-0.66,0.66Z", "filled": false, "color": "#D95319", "strokeWidth": 2, "size": 169, "opacity": 1},
                         "encoding": {"x": {"field": "x", "type": "quantitative", "axis": null}, "y": {"field": "y", "type": "quantitative", "axis": null}}},
                        {"mark": {"type": "point", "filled": false, "strokeWidth": 2, "opacity": 0},
                         "encoding": {
                           "x": {"field": "x", "type": "quantitative", "axis": null}, "y": {"field": "y", "type": "quantitative", "axis": null},
                           "color": {"field": "method", "type": "nominal", "scale": {"domain": ["Halton-set based MC", "Pseudo-random based MC"], "range": ["#0072BD", "#D95319"]}, "legend": {"title": null, "orient": "top-right", "offset": 9, "symbolOpacity": 1}},
                           "shape": {"field": "method", "type": "nominal", "scale": {"domain": ["Halton-set based MC", "Pseudo-random based MC"], "range": ["M-1.14,0L0.2,0M1,-0.9L1.6,0L1,0.9L0.4,0ZM1.8,0L3.14,0", "M-1.14,0L3.14,0M0.4,-0.6L1.6,-0.6L1.6,0.6L0.4,0.6Z"]}, "legend": null}}}
                      ],
                      "resolve": {"axis": {"x": "independent", "y": "independent"}}
                    }
                  ],
                  "bounds": "flush", "spacing": 217
                }
              ]
            }
          ]
        }
      ]
    }
  ]
}
